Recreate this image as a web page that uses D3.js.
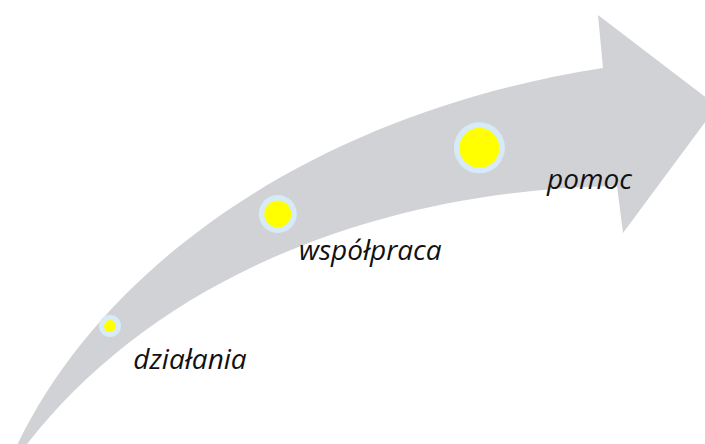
<!DOCTYPE html>
<html>
<head>
<meta charset="utf-8">
<script src="https://cdn.jsdelivr.net/npm/d3@7"></script>
<style>
  html, body { margin: 0; padding: 0; background: #fff; }
  #chart { width: 705px; height: 444px; overflow: hidden; }
  .stage-label { font-family: "Open Sans", sans-serif; font-style: italic; fill: #111; }
</style>
</head>
<body>
<div id="chart"></div>
<script>
// stages along the arrow (x = % of width, y = % of height from bottom)
var stages = ["działania", "współpraca", "pomoc"];
var stageX = [15.6, 39.4, 68.0];
var stageY = [26.6, 51.8, 66.7];
var dotSize = [6, 13.5, 20];      // yellow core radius
var ringSize = [11, 19, 25.5];    // light blue ring radius
var labelX = [18.9, 42.4, 77.6];
var labelY = [16.9, 41.4, 57.4];

var chartWidth = 705;
var chartHeight = 444;

var svg = d3.select("#chart").append("svg")
    .attr("width", chartWidth)
    .attr("height", chartHeight);

var x = d3.scaleLinear().domain([0, 100]).range([0, chartWidth]);
var y = d3.scaleLinear().domain([0, 100]).range([chartHeight, 0]);

// arrow body: upper edge, head, lower edge (pixel space)
function ArrowPath() {
    var p = d3.path();
    p.moveTo(12, 456);
    p.bezierCurveTo(100, 262, 320, 112, 603, 68);   // upper edge
    p.lineTo(598, 15);
    p.lineTo(717, 106);
    p.lineTo(623, 233);
    p.lineTo(617, 186);
    p.bezierCurveTo(360, 190, 140, 290, 18, 456);   // lower edge
    p.closePath();
    return p.toString();
}

svg.append("path")
    .attr("d", ArrowPath())
    .style("fill", "#d1d2d6");

var g = svg.append("g");
stages.forEach(function(name, i) {
    g.append("circle")
        .attr("cx", x(stageX[i]))
        .attr("cy", y(stageY[i]))
        .attr("r", ringSize[i])
        .style("fill", "#d7eaf8");
    g.append("circle")
        .attr("cx", x(stageX[i]))
        .attr("cy", y(stageY[i]))
        .attr("r", dotSize[i])
        .style("fill", "#ffff00");
    g.append("text")
        .attr("class", "stage-label")
        .attr("x", x(labelX[i]))
        .attr("y", y(labelY[i]))
        .style("font-size", "28px")
        .text(name);
});
</script>
</body>
</html>
